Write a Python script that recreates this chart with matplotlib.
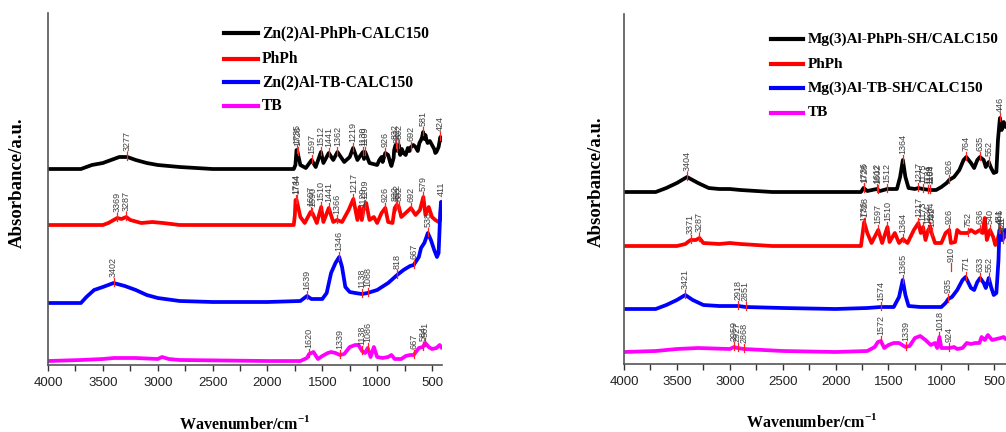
import numpy as np
import matplotlib
matplotlib.use("Agg")
import matplotlib.pyplot as plt
from matplotlib.lines import Line2D
from matplotlib.ticker import MultipleLocator

plt.rcParams['font.family'] = ['Liberation Sans', 'DejaVu Sans']
plt.rcParams['mathtext.fontset'] = 'custom'
plt.rcParams['mathtext.rm'] = 'Liberation Serif'
plt.rcParams['mathtext.bf'] = 'Liberation Serif:bold'

# ---------------- data: (wavenumber cm-1, absorbance a.u. incl. stacking offset) ----------------
zn_phph_calc = [(4000,196),(3700,196),(3600,200),(3500,202),(3400,206),(3350,208),(3277,208),(3200,205),
    (3100,202),(3000,200),(2800,198),(2500,196),(1760,196),(1745,200),(1735,215),(1726,213),(1700,200),
    (1650,197),(1597,205),(1560,198),(1512,213),(1490,202),(1441,212),(1400,205),(1362,213),(1300,203),
    (1250,208),(1219,217),(1180,205),(1130,213),(1120,206),(1109,213),(1070,202),(1000,200),(980,205),
    (960,208),(950,203),(926,212),(900,210),(880,202),(870,199),(850,207),(845,215),(832,220),(815,214),
    (802,220),(790,210),(775,216),(760,212),(740,210),(720,217),(705,214),(692,218),(670,220),(650,218),
    (630,214),(615,222),(600,225),(590,228),(581,233),(570,226),(560,230),(550,225),(540,222),(520,224),
    (500,220),(480,216),(470,212),(460,213),(440,218),(424,228),(410,225)]
zn_phph = [(4000,140),(3500,140),(3450,142),(3369,147),(3330,146),(3287,148),(3250,145),(3150,142),
    (3050,143),(2950,142),(2800,140),(1760,140),(1750,150),(1744,165),(1734,165),(1720,158),(1700,148),
    (1660,142),(1607,153),(1590,152),(1550,142),(1510,158),(1490,143),(1441,157),(1400,143),(1366,145),
    (1320,143),(1260,155),(1217,166),(1180,145),(1160,158),(1140,145),(1120,158),(1100,162),(1070,145),
    (1030,148),(1000,142),(960,152),(926,157),(900,143),(860,142),(840,157),(822,160),(802,158),(780,148),
    (740,152),(692,157),(650,150),(610,155),(579,168),(560,150),(530,158),(500,148),(470,145),(440,143),
    (425,145),(415,163),(411,163),(405,157)]
zn_tb_calc = [(4000,62),(3700,62),(3650,68),(3580,75),(3500,78),(3402,82),(3300,79),(3200,75),(3100,70),
    (3000,67),(2800,64),(2500,63),(2000,63),(1700,64),(1639,69),(1600,66),(1500,66),(1460,72),(1420,92),
    (1380,102),(1346,108),(1320,98),(1290,78),(1250,73),(1200,72),(1138,71),(1088,72),(1000,75),(900,82),
    (818,90),(760,95),(700,99),(667,100),(620,108),(600,117),(570,122),(538,132),(510,125),(480,115),
    (455,108),(440,112),(425,152),(418,163),(410,162),(405,157)]
zn_tb = [(4000,4),(3700,5),(3500,6),(3400,7),(3200,7),(3000,6),(2960,8),(2900,6),(2800,5),(2000,4),
    (1700,4),(1640,7),(1620,11),(1580,13),(1540,6),(1500,9),(1450,12),(1420,13),(1380,12),(1339,10),
    (1300,11),(1250,18),(1200,20),(1170,20),(1138,14),(1110,12),(1086,17),(1060,8),(1030,18),(1000,8),
    (950,7),(900,8),(870,10),(840,6),(780,6),(740,9),(700,10),(667,10),(620,17),(584,18),(561,22),
    (530,18),(500,16),(460,17),(430,20),(410,17)]

mg_phph_calc = [(4000,172),(3700,172),(3600,176),(3500,181),(3404,187),(3300,181),(3200,176),(3100,175),
    (3000,175),(2900,174),(2600,172),(2000,172),(1760,172),(1736,176),(1700,173),(1612,175),(1580,173),
    (1512,175),(1420,175),(1390,187),(1364,204),(1340,187),(1310,176),(1250,175),(1217,176),(1175,175),
    (1105,174),(1050,174),(1000,177),(950,181),(926,184),(880,187),(830,194),(790,204),(764,207),(720,201),
    (690,196),(660,204),(635,207),(600,204),(580,197),(552,202),(530,196),(505,191),(480,192),(465,224),
    (450,242),(446,246),(430,234),(420,241),(410,242),(395,237)]
mg_phph = [(4000,118),(3500,118),(3420,120),(3371,124),(3320,124),(3287,126),(3250,121),(3100,120),
    (3000,121),(2900,120),(2600,118),(1760,118),(1730,142),(1700,131),(1660,121),(1597,134),(1560,121),
    (1510,137),(1490,122),(1440,131),(1400,121),(1364,125),(1320,121),(1260,134),(1217,141),(1195,131),
    (1173,137),(1150,124),(1124,134),(1104,137),(1092,131),(1060,121),(1000,121),(960,131),(926,134),
    (910,121),(870,122),(850,134),(820,131),(780,131),(752,131),(720,134),(680,131),(636,134),(610,131),
    (590,146),(570,124),(540,134),(510,127),(490,119),(470,124),(446,134),(430,124),(410,131),(395,127)]
mg_tb_calc = [(4000,55),(3700,55),(3600,59),(3500,64),(3421,69),(3350,64),(3250,59),(3100,58),(2918,58),
    (2851,57),(2500,56),(2000,55),(1700,56),(1574,57),(1450,57),(1400,67),(1365,84),(1340,69),(1310,58),
    (1200,57),(1000,57),(960,61),(935,65),(900,67),(850,74),(800,84),(771,87),(720,76),(690,74),(660,82),
    (633,86),(600,81),(580,76),(552,86),(530,77),(505,69),(480,71),(460,104),(451,134),(440,131),
    (421,124),(410,131),(395,134)]
mg_tb = [(4000,12),(3700,13),(3500,15),(3300,16),(3000,15),(2959,17),(2927,16),(2868,15),(2500,13),
    (2000,12),(1700,13),(1630,17),(1600,22),(1572,23),(1540,16),(1500,19),(1450,21),(1400,21),(1339,17),
    (1300,18),(1250,26),(1200,28),(1150,24),(1100,19),(1060,21),(1040,16),(1018,27),(1000,16),(960,16),
    (924,16),(880,17),(850,15),(800,16),(760,21),(720,20),(680,21),(640,21),(620,27),(590,24),(560,29),
    (520,24),(480,25),(440,26),(410,27),(395,25)]

# peak labels
zn_phph_calc_peaks = [3277,1735,1726,1597,1512,1441,1362,1219,1130,1109,926,832,822,802,692,581,424]
zn_phph_peaks = [3369,3287,1744,1734,1607,1590,1510,1441,1366,1217,1129,1109,926,832,822,802,692,579,411]
zn_tb_calc_peaks = [3402,1639,1346,1138,1088,818,667,538]
zn_tb_peaks = [1620,1339,1138,1086,667,584,561]
mg_phph_calc_peaks = [3404,1736,1728,1612,1602,1512,1364,1217,1175,1124,1109,1104,926,764,635,552,446]
mg_phph_peaks = [3371,3287,1736,1728,1597,1510,1364,1217,1173,1124,1104,1092,926,752,636,540,446,421]
mg_tb_calc_peaks = [3421,2918,2851,1574,1365,935,910,771,633,552,451,421]
mg_tb_peaks = [2959,2927,2868,1572,1339,1018,924]
label_lift = {910: 30}

zn_names = ["Zn(2)Al-PhPh-CALC150", "PhPh", "Zn(2)Al-TB-CALC150", "TB"]
mg_names = ["Mg(3)Al-PhPh-SH/CALC150", "PhPh", "Mg(3)Al-TB-SH/CALC150", "TB"]
colors = ["#000000", "#ff0000", "#0000ff", "#ff00ff"]
xticks = [4000, 3500, 3000, 2500, 2000, 1500, 1000, 500]

W, H = 1006, 432
fig = plt.figure(figsize=(W/100, H/100), dpi=100)
axL = fig.add_axes([48/W, 1-365/H, 394/W, 352/H])
axR = fig.add_axes([624/W, 1-364/H, 382/W, 350/H])

panels = [
    (axL, (4000, 409), 352, [zn_phph_calc, zn_phph, zn_tb_calc, zn_tb],
     [zn_phph_calc_peaks, zn_phph_peaks, zn_tb_calc_peaks, zn_tb_peaks], zn_names,
     (224, 258, 262, [33, 59, 82, 106], 11.2), 245, 429, 17, 183),
    (axR, (4000, 389), 350, [mg_phph_calc, mg_phph, mg_tb_calc, mg_tb],
     [mg_phph_calc_peaks, mg_phph_peaks, mg_tb_calc_peaks, mg_tb_peaks], mg_names,
     (771, 803, 808, [39, 64, 88, 113], 11.0), 812, 427, 596, 182),
]

serif = ['Liberation Serif', 'DejaVu Serif']
for ax, xlim, ytop, series, peaks, names, leg, xlx, xly, ylx, yly in panels:
    for pairs, col, pk in zip(series, colors, peaks):
        arr = np.array(pairs, dtype=float)
        wn, ab = arr[:, 0], arr[:, 1]
        ax.plot(wn, ab, color=col, lw=2.7, solid_joinstyle='round', solid_capstyle='round', zorder=2)
        for p in pk:
            y = np.interp(p, wn[::-1], ab[::-1]) + label_lift.get(p, 0) * (col == "#0000ff")
            ax.plot([p, p], [y - 3, y + 5], color='#ff2020', lw=0.9, zorder=3)
            ax.text(p, y + 6, str(p), rotation=90, ha='center', va='bottom', fontsize=6.5,
                    color='#404040', zorder=4)
    ax.set_xlim(*xlim)
    ax.set_ylim(0, ytop)
    ax.set_yticks([])
    ax.set_xticks(xticks)
    ax.xaxis.set_minor_locator(MultipleLocator(250))
    ax.tick_params(axis='x', which='both', direction='out', length=4.5, width=1, colors='#333333',
                   labelsize=9.5, pad=4, labelcolor='#222222')
    for s in ['top', 'right']:
        ax.spines[s].set_visible(False)
    for s in ['left', 'bottom']:
        ax.spines[s].set_color('#555555')
        ax.spines[s].set_linewidth(1.2)
    ax.patch.set_alpha(0)
    # legend
    x0, x1, xt, rows, fs = leg
    for name, col, r in zip(names, colors, rows):
        fig.add_artist(Line2D([x0/W, x1/W], [1-r/H, 1-r/H], color=col, lw=3, transform=fig.transFigure))
        fig.text(xt/W, 1-r/H, name, ha='left', va='center', fontsize=fs, fontweight='bold', family=serif)
    fig.text(xlx/W, 1-xly/H, r"Wavenumber/cm$^{\mathbf{-1}}$", ha='center', va='baseline',
             fontsize=11.5, fontweight='bold', family=serif)
    fig.text(ylx/W, 1-yly/H, "Absorbance/a.u.", ha='center', va='center', rotation=90,
             fontsize=13.5, fontweight='bold', family=serif)

fig.savefig("out.png", dpi=100)
